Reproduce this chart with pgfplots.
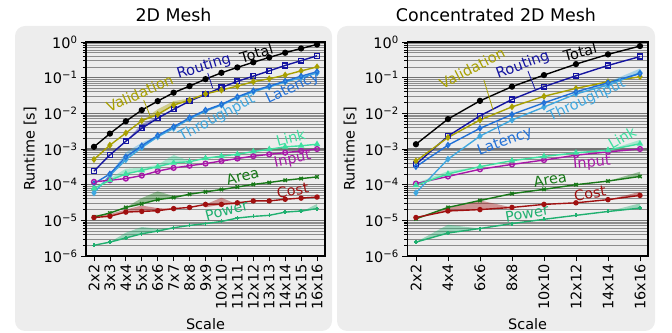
\documentclass[border=0pt]{standalone}
\usepackage{fontspec}
\setmainfont{DejaVu Sans}
\usepackage{pgfplots}
\pgfplotsset{compat=1.18}
\definecolor{cTotal}{HTML}{000000}
\definecolor{cRouting}{HTML}{1414A0}
\definecolor{cValid}{HTML}{A8A000}
\definecolor{cLat}{HTML}{2070D8}
\definecolor{cThr}{HTML}{40A8E0}
\definecolor{cLink}{HTML}{3EE0A0}
\definecolor{cInput}{HTML}{A818A8}
\definecolor{cArea}{HTML}{187818}
\definecolor{cCost}{HTML}{A01010}
\definecolor{cPower}{HTML}{20B070}
\definecolor{bgc}{HTML}{EDEDED}
\newcommand{\tickfont}{\fontsize{14.5}{15}\selectfont}
\newcommand{\annfont}{\fontsize{14.5}{15}\selectfont}
\pgfplotsset{
  every axis/.append style={
    scale only axis, height=214bp,
    ymin=1e-6, ymax=1,
    axis background/.style={fill=bgc},
    ymajorgrids, yminorgrids,
    major grid style={color=black!55, line width=1.1pt},
    minor grid style={color=black!45, line width=0.8pt},
    tick label style={font=\tickfont},
    xlabel style={font=\tickfont},
    ylabel style={font=\tickfont},
    xticklabel style={rotate=90, anchor=east},
    tick align=outside, tick pos=left,
    major tick length=5bp, minor tick length=3bp,
    tick style={black, line width=0.8pt},
    axis line style={line width=1.1pt},
    clip=false,
  },
  every axis plot/.append style={line width=1.4pt, mark size=2.4pt},
}
\tikzset{sband/.style={fill=#1, fill opacity=0.4, draw=none, mark=none}}
\begin{document}
\begin{tikzpicture}
\useasboundingbox (0bp,0bp) rectangle (672bp,333bp);
\fill[bgc, rounded corners=10bp] (15bp,2bp) rectangle (332bp,307bp);
\fill[bgc, rounded corners=10bp] (337bp,2bp) rectangle (655bp,307bp);
\node[font=\fontsize{17.5}{18}\selectfont] at (173.5bp,318bp) {2D Mesh};
\node[font=\fontsize{17.5}{18}\selectfont] at (496bp,318bp) {Concentrated 2D Mesh};

% ---------------- left ----------------
\begin{semilogyaxis}[at={(86bp,77bp)}, anchor=south west, width=239bp,
  xmin=-0.5, xmax=14.5,
  xtick={0,...,14},
  xticklabels={2x2,3x3,4x4,5x5,6x6,7x7,8x8,9x9,10x10,11x11,12x12,13x13,14x14,15x15,16x16},
  ytick={1e-6,1e-5,1e-4,1e-3,1e-2,1e-1,1},
  yticklabels={10\textsuperscript{−6},10\textsuperscript{−5},10\textsuperscript{−4},10\textsuperscript{−3},10\textsuperscript{−2},10\textsuperscript{−1},10\textsuperscript{0}},
  ylabel={Runtime [s]}, xlabel={Scale},
  ylabel style={at={(axis description cs:-0.234,0.5)}, anchor=center},
  xlabel style={at={(axis description cs:0.5,-0.318)}, anchor=center},
]
% bands
\addplot[sband=cValid, forget plot] coordinates {(3,6.2e-3)(4,1.3e-2)(5,2.2e-2)(6,2.6e-2)(7,3.5e-2)(7,3.5e-2)(6,2.35e-2)(5,1.7e-2)(4,9.3e-3)(3,6.2e-3)};
\addplot[sband=cRouting, forget plot] coordinates {(2,1.65e-3)(3,5e-3)(4,8e-3)(5,1.29e-2)(5,1.29e-2)(4,7.3e-3)(3,3.8e-3)(2,1.65e-3)};
\addplot[sband=cThr, forget plot] coordinates {(1,2.0e-4)(2,8e-4)(3,1.5e-3)(4,2.4e-3)(4,2.2e-3)(3,1.1e-3)(2,5e-4)(1,1.8e-4)};
\addplot[sband=cLink, forget plot] coordinates {(1,1.5e-4)(2,2.8e-4)(3,3.0e-4)(4,3.6e-4)(5,6.8e-4)(6,4.6e-4)(6,4.4e-4)(5,4.1e-4)(4,3.2e-4)(3,2.5e-4)(2,2.0e-4)(1,1.33e-4)};
\addplot[sband=cArea, forget plot] coordinates {(2,2.3e-5)(3,4.2e-5)(4,6.5e-5)(5,4.8e-5)(6,5.4e-5)(6,5.4e-5)(5,4.35e-5)(4,3.8e-5)(3,2.9e-5)(2,2.3e-5)};
\addplot[sband=cCost, forget plot] coordinates {(0,1.4e-5)(1,1.5e-5)(2,2.0e-5)(3,2.6e-5)(4,2.2e-5)(5,2.13e-5)(5,2.13e-5)(4,1.86e-5)(3,1.78e-5)(2,1.7e-5)(1,1.3e-5)(0,1.2e-5)};
\addplot[sband=cCost, forget plot] coordinates {(7,2.8e-5)(8,4.3e-5)(9,2.8e-5)(9,2.8e-5)(8,2.8e-5)(7,2.3e-5)};
\addplot[sband=cPower, forget plot] coordinates {(1,2.45e-6)(2,4.5e-6)(3,6.5e-6)(4,5.8e-6)(5,6.2e-6)(5,6.2e-6)(4,5.0e-6)(3,4.2e-6)(2,3.2e-6)(1,2.45e-6)};
\addplot[sband=cPower, forget plot] coordinates {(13,1.7e-5)(14,2.9e-5)(14,2.13e-5)(13,1.7e-5)};
% lines
\addplot[cTotal, mark=*] coordinates {(0,1.15e-3)(1,2.7e-3)(2,6e-3)(3,1.23e-2)(4,2.2e-2)(5,3.8e-2)(6,5.8e-2)(7,9.1e-2)(8,0.137)(9,0.194)(10,0.27)(11,0.37)(12,0.50)(13,0.66)(14,0.85)};
\addplot[cRouting, mark=square, mark options={solid}] coordinates {(0,2.4e-4)(1,6.8e-4)(2,1.65e-3)(3,3.8e-3)(4,7.3e-3)(5,1.29e-2)(6,2.2e-2)(7,3.4e-2)(8,5.3e-2)(9,7.9e-2)(10,0.11)(11,0.155)(12,0.22)(13,0.30)(14,0.41)};
\addplot[cValid, mark=diamond*] coordinates {(0,5.1e-4)(1,1.28e-3)(2,2.8e-3)(3,6.2e-3)(4,9.3e-3)(5,1.7e-2)(6,2.35e-2)(7,3.5e-2)(8,4.5e-2)(9,5.8e-2)(10,7.7e-2)(11,9.3e-2)(12,0.118)(13,0.155)(14,0.20)};
\addplot[cThr, mark=diamond*] coordinates {(0,5.9e-5)(1,1.8e-4)(2,5.0e-4)(3,1.1e-3)(4,2.2e-3)(5,3.8e-3)(6,7.0e-3)(7,1.15e-2)(8,1.7e-2)(9,2.7e-2)(10,4.0e-2)(11,5.5e-2)(12,7.5e-2)(13,0.10)(14,0.135)};
\addplot[cLat, mark=diamond, mark options={solid}] coordinates {(0,1.07e-4)(1,2.0e-4)(2,6e-4)(3,1.23e-3)(4,2.4e-3)(5,4.2e-3)(6,7.5e-3)(7,1.23e-2)(8,1.78e-2)(9,2.9e-2)(10,4.3e-2)(11,5.8e-2)(12,8.0e-2)(13,0.11)(14,0.147)};
\addplot[cInput, mark=o, mark options={solid}] coordinates {(0,1.2e-4)(1,1.33e-4)(2,1.48e-4)(3,1.8e-4)(4,2.4e-4)(5,2.95e-4)(6,3.4e-4)(7,3.9e-4)(8,4.6e-4)(9,5.4e-4)(10,6.3e-4)(11,7.1e-4)(12,7.9e-4)(13,8.8e-4)(14,1.0e-3)};
\addplot[cLink, mark=triangle*] coordinates {(0,7.8e-5)(1,1.33e-4)(2,2.0e-4)(3,2.5e-4)(4,3.2e-4)(5,4.1e-4)(6,4.4e-4)(7,5.5e-4)(8,6.3e-4)(9,7.1e-4)(10,8.5e-4)(11,9.8e-4)(12,1.15e-3)(13,1.23e-3)(14,1.36e-3)};
\addplot[cArea, mark=x] coordinates {(0,1.24e-5)(1,1.6e-5)(2,2.3e-5)(3,2.9e-5)(4,3.8e-5)(5,4.35e-5)(6,5.4e-5)(7,6.3e-5)(8,7.3e-5)(9,8.6e-5)(10,1.02e-4)(11,1.15e-4)(12,1.33e-4)(13,1.48e-4)(14,1.65e-4)};
\addplot[cCost, mark=*, mark size=2pt] coordinates {(0,1.2e-5)(1,1.3e-5)(2,1.7e-5)(3,1.78e-5)(4,1.86e-5)(5,2.13e-5)(6,2.3e-5)(7,2.8e-5)(8,2.8e-5)(9,3.1e-5)(10,3.5e-5)(11,3.5e-5)(12,3.9e-5)(13,4.2e-5)(14,4.5e-5)};
\addplot[cPower, mark=+, mark size=2pt] coordinates {(0,2.0e-6)(1,2.45e-6)(2,3.2e-6)(3,4.2e-6)(4,5.0e-6)(5,6.2e-6)(6,7.2e-6)(7,8.1e-6)(8,9.3e-6)(9,1.16e-5)(10,1.29e-5)(11,1.38e-5)(12,1.7e-5)(13,1.83e-5)(14,2.13e-5)};
% labels
\node[cValid, font=\annfont, rotate=24] at (axis cs:2.87,0.037) {Validation};
\draw[cValid, line width=0.8pt] (axis cs:3.12,0.0235) -- (axis cs:3.56,0.0078);
\node[cRouting, font=\annfont, rotate=17] at (axis cs:6.9,0.20) {Routing};
\draw[cRouting, line width=0.8pt] (axis cs:7.14,0.135) -- (axis cs:7.45,0.051);
\node[cTotal, font=\annfont, rotate=17] at (axis cs:10.2,0.49) {Total};
\node[cLat, font=\annfont, rotate=25] at (axis cs:12.47,0.051) {Latency};
\node[cThr, font=\annfont, rotate=28] at (axis cs:7.71,0.0074) {Throughput};
\node[cLink, font=\annfont, rotate=15] at (axis cs:12.35,2.1e-3) {Link};
\node[cInput, font=\annfont, rotate=12] at (axis cs:12.47,5.1e-4) {Input};
\node[cArea, font=\annfont, rotate=15] at (axis cs:9.33,1.73e-4) {Area};
\node[cCost, font=\annfont, rotate=10] at (axis cs:12.47,6.9e-5) {Cost};
\node[cPower, font=\annfont, rotate=15] at (axis cs:8.33,1.9e-5) {Power};
\end{semilogyaxis}

% ---------------- right ----------------
\begin{semilogyaxis}[at={(407.3bp,77bp)}, anchor=south west, width=240.7bp,
  xmin=-0.27, xmax=7.25,
  xtick={0,...,7},
  xticklabels={2x2,4x4,6x6,8x8,10x10,12x12,14x14,16x16},
  ytick={1e-6,1e-5,1e-4,1e-3,1e-2,1e-1,1},
  yticklabels={10\textsuperscript{−6},10\textsuperscript{−5},10\textsuperscript{−4},10\textsuperscript{−3},10\textsuperscript{−2},10\textsuperscript{−1},10\textsuperscript{0}},
  ylabel={Runtime [s]}, xlabel={Scale},
  ylabel style={at={(axis description cs:-0.238,0.5)}, anchor=center},
  xlabel style={at={(axis description cs:0.5,-0.318)}, anchor=center},
]
\addplot[sband=cThr, forget plot] coordinates {(5,3.5e-2)(6,7.5e-2)(7,0.18)(7,0.137)(6,6.2e-2)(5,3.5e-2)};
\addplot[sband=cLink, forget plot] coordinates {(0,1.1e-4)(1,2.4e-4)(2,3.2e-4)(2,3.2e-4)(1,2.0e-4)(0,9.6e-5)};
\addplot[sband=cLink, forget plot] coordinates {(6,9.3e-4)(7,1.8e-3)(7,1.4e-3)(6,9.3e-4)};
\addplot[sband=cArea, forget plot] coordinates {(6,1.26e-4)(7,2.3e-4)(7,1.7e-4)(6,1.26e-4)};
\addplot[sband=cCost, forget plot] coordinates {(0,1.2e-5)(1,2.2e-5)(2,3.6e-5)(3,2.3e-5)(3,2.3e-5)(2,2.0e-5)(1,1.83e-5)(0,1.2e-5)};
\addplot[sband=cCost, forget plot] coordinates {(6,3.8e-5)(7,6.3e-5)(7,5.0e-5)(6,3.8e-5)};
\addplot[sband=cPower, forget plot] coordinates {(0,2.45e-6)(1,7.5e-6)(2,5.9e-6)(2,5.9e-6)(1,4.4e-6)(0,2.45e-6)};
\addplot[sband=cPower, forget plot] coordinates {(6,1.77e-5)(7,3.0e-5)(7,2.2e-5)(6,1.77e-5)};
\addplot[cTotal, mark=*] coordinates {(0,1.36e-3)(1,6.9e-3)(2,2.24e-2)(3,5.6e-2)(4,0.118)(5,0.24)(6,0.45)(7,0.77)};
\addplot[cRouting, mark=square, mark options={solid}] coordinates {(0,3.7e-4)(1,2.3e-3)(2,8.5e-3)(3,2.45e-2)(4,5.6e-2)(5,0.113)(6,0.22)(7,0.39)};
\addplot[cValid, mark=diamond*] coordinates {(0,4.6e-4)(1,2.1e-3)(2,6.5e-3)(3,1.52e-2)(4,3.0e-2)(5,5.0e-2)(6,7.7e-2)(7,0.106)};
\addplot[cThr, mark=diamond*] coordinates {(0,5.9e-5)(1,5.2e-4)(2,2.3e-3)(3,6.5e-3)(4,1.5e-2)(5,3.5e-2)(6,6.2e-2)(7,0.137)};
\addplot[cLat, mark=diamond, mark options={solid}] coordinates {(0,3.2e-4)(1,1.28e-3)(2,3.8e-3)(3,9.3e-3)(4,1.97e-2)(5,4.0e-2)(6,7.2e-2)(7,0.13)};
\addplot[cInput, mark=o, mark options={solid}] coordinates {(0,1.07e-4)(1,1.7e-4)(2,2.7e-4)(3,3.7e-4)(4,4.9e-4)(5,6.7e-4)(6,8.3e-4)(7,1.0e-3)};
\addplot[cLink, mark=triangle*] coordinates {(0,9.6e-5)(1,2.0e-4)(2,3.2e-4)(3,4.7e-4)(4,6.2e-4)(5,7.8e-4)(6,9.3e-4)(7,1.4e-3)};
\addplot[cArea, mark=x] coordinates {(0,1.1e-5)(1,2.3e-5)(2,3.6e-5)(3,5.6e-5)(4,7.4e-5)(5,1.0e-4)(6,1.26e-4)(7,1.7e-4)};
\addplot[cCost, mark=*, mark size=2pt] coordinates {(0,1.2e-5)(1,1.83e-5)(2,2.0e-5)(3,2.3e-5)(4,2.8e-5)(5,3.1e-5)(6,3.8e-5)(7,5.0e-5)};
\addplot[cPower, mark=+, mark size=2pt] coordinates {(0,2.45e-6)(1,4.4e-6)(2,5.9e-6)(3,8.1e-6)(4,1.07e-5)(5,1.38e-5)(6,1.77e-5)(7,2.2e-5)};
\node[cValid, font=\annfont, rotate=27] at (axis cs:1.75,0.186) {Validation};
\draw[cValid, line width=0.8pt] (axis cs:2.125,0.085) -- (axis cs:2.41,0.0123);
\node[cRouting, font=\annfont, rotate=20] at (axis cs:3.34,0.226) {Routing};
\draw[cRouting, line width=0.8pt] (axis cs:3.5,0.153) -- (axis cs:3.72,0.048);
\node[cTotal, font=\annfont, rotate=15] at (axis cs:5.125,0.52) {Total};
\node[cThr, font=\annfont, rotate=25] at (axis cs:5.34,0.0235) {Throughput};
\node[cLat, font=\annfont, rotate=20] at (axis cs:2.78,1.55e-3) {Latency};
\draw[cLat, line width=0.8pt] (axis cs:2.625,2.6e-3) -- (axis cs:2.53,5.6e-3);
\node[cLink, font=\annfont, rotate=30] at (axis cs:6.44,2.1e-3) {Link};
\node[cInput, font=\annfont, rotate=5] at (axis cs:5.5,4e-4) {Input};
\node[cArea, font=\annfont, rotate=10] at (axis cs:4.19,1.4e-4) {Area};
\node[cCost, font=\annfont, rotate=10] at (axis cs:5.44,5.7e-5) {Cost};
\node[cPower, font=\annfont, rotate=10] at (axis cs:3.47,1.58e-5) {Power};
\end{semilogyaxis}
\end{tikzpicture}
\end{document}
